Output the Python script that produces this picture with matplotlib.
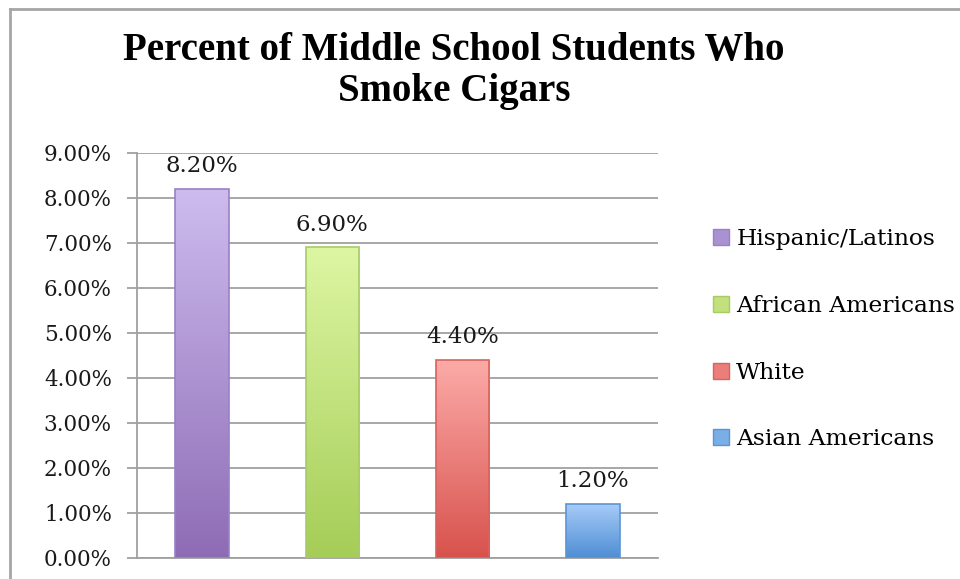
import numpy as np
import matplotlib
matplotlib.use("Agg")
from matplotlib import pyplot as plt
from matplotlib.colors import LinearSegmentedColormap
from matplotlib.patches import Patch
from matplotlib.lines import Line2D

groups = ["Hispanic/Latinos", "African Americans", "White", "Asian Americans"]
values = [8.2, 6.9, 4.4, 1.2]
labels = ["8.20%", "6.90%", "4.40%", "1.20%"]
tops = ["#CDBCEE", "#DDF6A3", "#FCABA8", "#A8CCF8"]
bottoms = ["#8E6CB5", "#A5CD57", "#D8524D", "#4E8ED4"]
edges = ["#9A80C6", "#A8CB66", "#D9625C", "#5C95D6"]
mids = ["#A991D2", "#C2E07C", "#EB7E7A", "#79AEE7"]

plt.rcParams["font.family"] = ["DejaVu Serif"]
fs = 15.5

fig = plt.figure(figsize=(9.6, 5.79), dpi=100)
ax = fig.add_axes([0.1427, 0.0363, 0.6854 - 0.1427, 0.7358 - 0.0363])

x = np.arange(len(values))
bars = ax.bar(x, values, width=0.41, facecolor="none", edgecolor=edges, linewidth=1.2, zorder=3)
grad = np.linspace(0, 1, 256).reshape(-1, 1)
for b, t, bt in zip(bars, tops, bottoms):
    cmap = LinearSegmentedColormap.from_list("g", [bt, t])
    x0, w, h = b.get_x(), b.get_width(), b.get_height()
    im = ax.imshow(grad, cmap=cmap, origin="lower", aspect="auto",
                   extent=(x0, x0 + w, 0, h), zorder=2)
    im.set_clip_path(b)

for xi, v, lab in zip(x, values, labels):
    ax.annotate(lab, (xi, v), xytext=(0, 12), textcoords="offset points",
                ha="center", va="baseline", fontsize=16.5, color="#1a1a1a")

ax.set_xlim(-0.5, 3.5)
ax.set_ylim(0, 9)
ax.set_yticks(np.arange(0, 10, 1))
ax.set_yticklabels(["%.2f%%" % v for v in np.arange(0, 10, 1)], fontsize=fs, color="#1a1a1a")
ax.set_xticks([])
ax.yaxis.grid(True, color="#A0A0A0", linewidth=1.3, zorder=0)
ax.set_axisbelow(True)
ax.tick_params(axis="y", length=7, width=1.3, color="#A0A0A0", pad=11)
for s in ["top", "right"]:
    ax.spines[s].set_visible(False)
ax.spines["left"].set_color("#A0A0A0")
ax.spines["bottom"].set_color("#A0A0A0")
ax.spines["left"].set_linewidth(1.3)
ax.spines["bottom"].set_linewidth(1.3)

handles = [Patch(facecolor=m, edgecolor=e, linewidth=1) for m, e in zip(mids, edges)]
fig.legend(handles, groups, loc="center left", bbox_to_anchor=(0.731, 0.414),
           frameon=False, fontsize=16.8, handlelength=0.68, handleheight=0.68,
           handletextpad=0.3, labelspacing=1.92, borderpad=0)

fig.text(0.473, 1 - 60 / 579, "Percent of Middle School Students Who", ha="center",
         va="baseline", fontsize=28, fontweight="bold", family="Liberation Serif")
fig.text(0.473, 1 - 101 / 579, "Smoke Cigars", ha="center",
         va="baseline", fontsize=28, fontweight="bold", family="Liberation Serif")

# chart frame (only top and left edges visible in the crop)
fig.add_artist(Line2D([10 / 960, 1], [1 - 9 / 579, 1 - 9 / 579], color="#A6A6A6", lw=2))
fig.add_artist(Line2D([10 / 960, 10 / 960], [0, 1 - 9 / 579], color="#A6A6A6", lw=2))

fig.savefig("out.png", dpi=100)
